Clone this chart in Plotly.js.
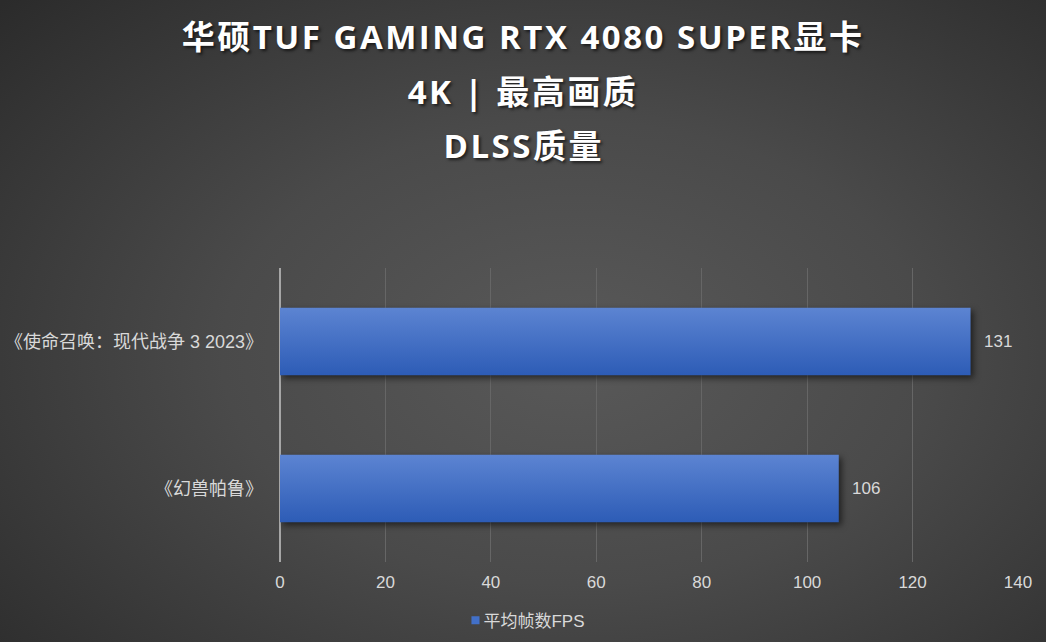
<!DOCTYPE html>
<html><head><meta charset="utf-8">
<script src="https://cdn.plot.ly/plotly-3.0.1.min.js"></script>
<style>
html,body{margin:0;padding:0;}
#chart{width:1046px;height:642px;background:radial-gradient(ellipse 75% 80% at 55% 55%, #595959 0%, #4a4a4a 45%, #2b2b2b 100%);}
.trace.bars .point path{fill:url(#barGrad) !important;filter:drop-shadow(3px 3px 3px rgba(0,0,0,0.55));}
.annotation[data-index="0"] text,.annotation[data-index="1"] text,.annotation[data-index="2"] text{letter-spacing:2.5px;}
.legend .legendpoints path{transform:translate(32px,0px) scale(0.67);}
</style>
</head><body>
<svg width="0" height="0" style="position:absolute">
<defs><linearGradient id="barGrad" x1="0" y1="0" x2="0" y2="1">
<stop offset="0" stop-color="#5c84d2"/><stop offset="1" stop-color="#2d5cb6"/>
</linearGradient></defs></svg>
<div id="chart"></div>
<script>
const categories = ["《使命召唤：现代战争 3 2023》", "《幻兽帕鲁》"];
const fpsValues = [131, 106];
const seriesName = "平均帧数FPS";
const titleLines = ["华硕TUF GAMING RTX 4080 SUPER显卡", "4K | 最高画质", "DLSS质量"];
const xTicks = [0, 20, 40, 60, 80, 100, 120, 140];

const txtFont = {family: "Liberation Sans, Noto Sans CJK SC, sans-serif", size: 17, color: "#d9d9d9"};
const catFont = {family: "Liberation Sans, Noto Sans CJK SC, sans-serif", size: 18, color: "#d9d9d9"};
const titleFont = {family: "Open Sans, Noto Sans CJK SC, sans-serif", size: 33, color: "#ffffff", weight: 700, shadow: "2px 2px 3px rgba(0,0,0,0.6)"};
const titleY = [1.7891, 1.6020, 1.4150];

const annotations = titleLines.map((t, i) => ({
  text: "<b>" + t + "</b>", xref: "paper", yref: "paper", x: 0.3293, y: titleY[i],
  xanchor: "center", yanchor: "middle", showarrow: false, font: titleFont
})).concat(fpsValues.map((v, i) => ({
  text: String(v), x: v, y: categories[i], xref: "x", yref: "y",
  xanchor: "left", yanchor: "middle", xshift: 11, showarrow: false, font: txtFont
})));

const trace = {
  type: "bar", orientation: "h", x: fpsValues, y: categories, name: seriesName,
  width: 0.46, marker: {color: "#4270c8"}, showlegend: true, hoverinfo: "none"
};

const layout = {
  width: 1046, height: 642,
  margin: {l: 280, r: 28, t: 268, b: 80, pad: 0, autoexpand: false},
  paper_bgcolor: "rgba(0,0,0,0)", plot_bgcolor: "rgba(0,0,0,0)",
  font: txtFont,
  xaxis: {range: [0, 140], tickvals: xTicks, showgrid: true, gridcolor: "#666666", gridwidth: 1,
          zeroline: true, zerolinecolor: "#a6a6a6", zerolinewidth: 1.5, showline: false,
          ticks: "", tickfont: txtFont, ticklabelstandoff: 8, fixedrange: true, automargin: false},
  yaxis: {type: "category", autorange: "reversed", showgrid: false, zeroline: false, showline: false,
          ticks: "", tickfont: catFont, ticklabelstandoff: 16, fixedrange: true, automargin: false},
  showlegend: true,
  legend: {orientation: "h", x: 0.3211, xanchor: "center", y: -0.2, yanchor: "middle",
           font: txtFont, bgcolor: "rgba(0,0,0,0)", itemwidth: 30},
  annotations: annotations
};

Plotly.newPlot("chart", [trace], layout, {staticPlot: true, displayModeBar: false});
</script>
</body></html>
